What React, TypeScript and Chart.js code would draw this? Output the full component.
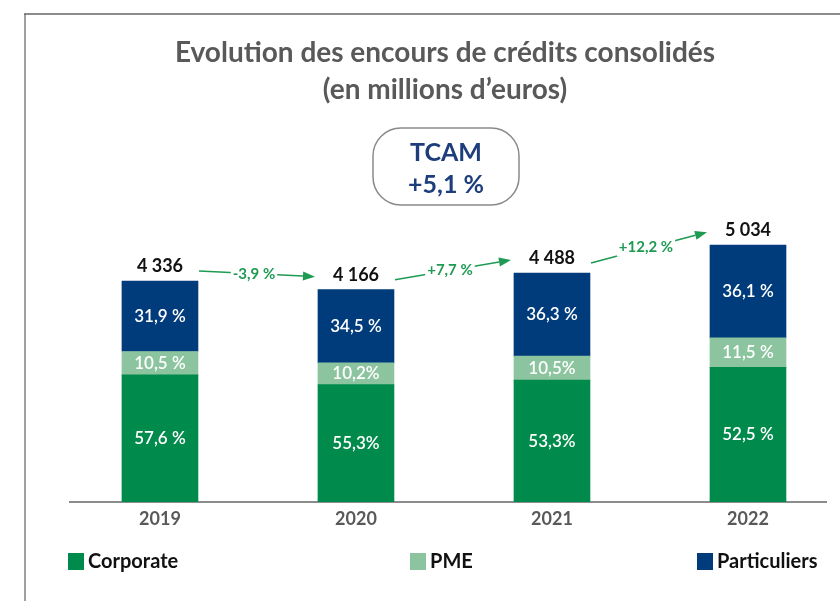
import React, { useEffect, useRef } from "react";
import { Chart, registerables } from "chart.js";

Chart.register(...registerables);

// ---------- Data ----------
const years = ["2019", "2020", "2021", "2022"];
const totals = [4336, 4166, 4488, 5034];
const totalLabels = ["4 336", "4 166", "4 488", "5 034"];
const corporatePct = [57.6, 55.3, 53.3, 52.5];
const pmePct = [10.5, 10.2, 10.5, 11.5];
const particuliersPct = [31.9, 34.5, 36.3, 36.1];
const corporateLabels = ["57,6 %", "55,3%", "53,3%", "52,5 %"];
const pmeLabels = ["10,5 %", "10,2%", "10,5%", "11,5 %"];
const particuliersLabels = ["31,9 %", "34,5 %", "36,3 %", "36,1 %"];
const growthLabels = ["-3,9 %", "+7,7 %", "+12,2 %"];
const titleLines = ["Evolution des encours de crédits consolidés", "(en millions d’euros)"];
const tcamLines = ["TCAM", "+5,1 %"];
const seriesNames = ["Corporate", "PME", "Particuliers"];

// ---------- Styles ----------
const COLORS = {
  corporate: "#008a4b",
  pme: "#8cc49f",
  particuliers: "#003b7b",
  title: "#595959",
  navy: "#1d3e7b",
  growth: "#1f9a52",
};
const FONT = "Lato, 'Open Sans', sans-serif";

const segLabels = [corporateLabels, pmeLabels, particuliersLabels];

const overlayPlugin = {
  id: "overlay",
  afterDatasetsDraw(chart: any) {
    const ctx = chart.ctx;
    ctx.save();
    // segment labels
    ctx.fillStyle = "#ffffff";
    ctx.font = `600 17px ${FONT}`;
    ctx.textAlign = "center";
    ctx.textBaseline = "middle";
    for (let d = 0; d < 3; d++) {
      const meta = chart.getDatasetMeta(d);
      meta.data.forEach((el: any, i: number) => {
        const cy = (el.y + el.base) / 2;
        ctx.fillText(segLabels[d][i], el.x, cy);
      });
    }
    // totals
    const topMeta = chart.getDatasetMeta(2);
    const labs = topMeta.data.map((el: any) => ({ x: el.x, y: el.y - 15 }));
    ctx.fillStyle = "#111111";
    ctx.font = `bold 18px ${FONT}`;
    labs.forEach((p: any, i: number) => ctx.fillText(totalLabels[i], p.x, p.y));

    // growth arrows
    for (let i = 0; i < labs.length - 1; i++) {
      const sx = labs[i].x + 39;
      const sy = labs[i].y + 5;
      const ex = labs[i + 1].x - 41;
      const ey = labs[i + 1].y + 2;
      const ang = Math.atan2(ey - sy, ex - sx);
      const headLen = 12;
      const bx = ex - headLen * Math.cos(ang);
      const by = ey - headLen * Math.sin(ang);
      ctx.strokeStyle = COLORS.growth;
      ctx.fillStyle = COLORS.growth;
      ctx.lineWidth = 1.5;
      ctx.beginPath();
      ctx.moveTo(sx, sy);
      ctx.lineTo(bx, by);
      ctx.stroke();
      ctx.beginPath();
      ctx.moveTo(ex, ey);
      ctx.lineTo(bx + 4.5 * Math.sin(ang), by - 4.5 * Math.cos(ang));
      ctx.lineTo(bx - 4.5 * Math.sin(ang), by + 4.5 * Math.cos(ang));
      ctx.closePath();
      ctx.fill();
      // label
      const mx = (sx + ex) / 2 - 3;
      const my = (sy + ey) / 2;
      ctx.font = `bold 15px ${FONT}`;
      const w = ctx.measureText(growthLabels[i]).width;
      ctx.fillStyle = "#ffffff";
      ctx.fillRect(mx - w / 2 - 2, my - 9, w + 4, 18);
      ctx.fillStyle = COLORS.growth;
      ctx.fillText(growthLabels[i], mx, my);
    }
    ctx.restore();
  },
  afterDraw(chart: any) {
    const ctx = chart.ctx;
    ctx.save();
    // frame lines
    ctx.strokeStyle = "#a0a0a0";
    ctx.lineWidth = 2;
    ctx.beginPath();
    ctx.moveTo(25, 14);
    ctx.lineTo(25, 601);
    ctx.stroke();
    ctx.strokeStyle = "#666666";
    ctx.lineWidth = 1.5;
    ctx.beginPath();
    ctx.moveTo(24, 14);
    ctx.lineTo(840, 14);
    ctx.stroke();

    // title
    ctx.fillStyle = COLORS.title;
    ctx.textAlign = "center";
    ctx.textBaseline = "middle";
    ctx.font = `bold 28px ${FONT}`;
    ctx.fillText(titleLines[0], 445, 53);
    ctx.fillText(titleLines[1], 445, 90);

    // TCAM box
    ctx.strokeStyle = "#8a8a8a";
    ctx.lineWidth = 1.5;
    ctx.beginPath();
    (ctx as any).roundRect(373, 128, 146, 77, 28);
    ctx.stroke();
    ctx.fillStyle = COLORS.navy;
    ctx.font = `bold 25px ${FONT}`;
    ctx.fillText(tcamLines[0], 446, 153);
    ctx.fillText(tcamLines[1], 446, 185);

    // legend
    const legendItems = [
      { x: 68, color: COLORS.corporate, name: seriesNames[0] },
      { x: 410, color: COLORS.pme, name: seriesNames[1] },
      { x: 697, color: COLORS.particuliers, name: seriesNames[2] },
    ];
    ctx.textAlign = "left";
    ctx.font = `bold 20px ${FONT}`;
    legendItems.forEach((it) => {
      ctx.fillStyle = it.color;
      ctx.fillRect(it.x, 553, 16, 17);
      ctx.fillStyle = "#111111";
      ctx.fillText(it.name, it.x + 20, 562);
    });
    ctx.restore();
  },
};

export default function App() {
  const ref = useRef<HTMLCanvasElement | null>(null);

  useEffect(() => {
    if (!ref.current) return;
    const mk = (pct: number[]) => years.map((_, i) => ({ x: i, y: (totals[i] * pct[i]) / 100 }));
    const common = { barThickness: 76, grouped: false };
    const chart = new Chart(ref.current, {
      type: "bar",
      data: {
        datasets: [
          { label: seriesNames[0], data: mk(corporatePct), backgroundColor: COLORS.corporate, ...common },
          { label: seriesNames[1], data: mk(pmePct), backgroundColor: COLORS.pme, ...common },
          { label: seriesNames[2], data: mk(particuliersPct), backgroundColor: COLORS.particuliers, ...common },
        ] as any,
      },
      options: {
        animation: false,
        responsive: false,
        devicePixelRatio: 1,
        layout: { padding: { left: 70, right: 14, top: 237, bottom: 59 } },
        plugins: {
          legend: { display: false },
          title: { display: false },
          tooltip: { enabled: false },
        },
        scales: {
          x: {
            type: "linear",
            stacked: false,
            offset: false,
            min: -0.459,
            max: 3.398,
            grid: { display: false, drawTicks: false },
            border: { display: true, color: "#8c8c8c", width: 2 },
            ticks: {
              stepSize: 1,
              autoSkip: false,
              maxRotation: 0,
              padding: 6,
              color: COLORS.title,
              font: { family: FONT, size: 18, weight: "bold" },
              callback: (v: any) => (Number.isInteger(v) ? years[v] : ""),
            },
            afterBuildTicks: (s: any) => {
              s.ticks = years.map((_, i) => ({ value: i }));
            },
            afterFit: (s: any) => {
              s.height = 40;
            },
          } as any,
          y: {
            display: false,
            stacked: true,
            min: 0,
            max: 5200,
          },
        },
      },
      plugins: [overlayPlugin],
    });
    return () => chart.destroy();
  }, []);

  return (
    <div style={{ position: "absolute", left: 0, top: 0, width: 840, height: 601, background: "#fff" }}>
      <canvas ref={ref} width={840} height={601} style={{ display: "block" }} />
    </div>
  );
}
